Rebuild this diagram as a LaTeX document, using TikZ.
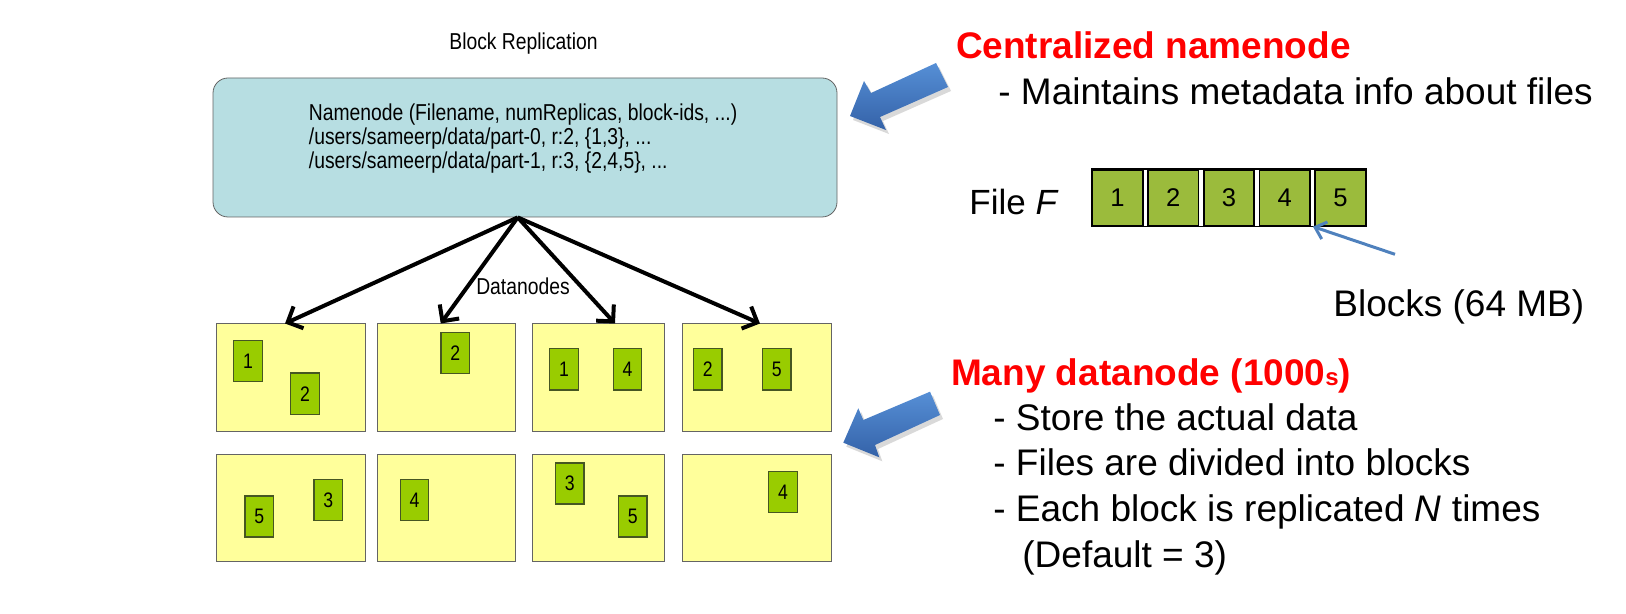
\documentclass[tikz,border=0pt]{standalone}
\usepackage{fontspec}
\setmainfont{Liberation Sans}
\newfontfamily\narrowsf[FakeStretch=0.84]{Liberation Sans}
\usepackage{xcolor}
\usepackage{tikz}
\usetikzlibrary{arrows.meta,calc,positioning}

\definecolor{namefill}{RGB}{183,222,226}
\definecolor{nodefill}{RGB}{255,255,155}
\definecolor{boxedge}{RGB}{100,100,100}
\definecolor{blkgreen}{RGB}{153,204,0}
\definecolor{blkedge}{RGB}{70,86,34}
\definecolor{filegreen}{RGB}{155,187,60}
\definecolor{ptrblue}{RGB}{79,129,189}
\definecolor{arrowtop}{RGB}{86,143,214}
\definecolor{arrowbot}{RGB}{52,98,168}
\definecolor{headred}{RGB}{255,0,0}

\begin{document}
\begin{tikzpicture}[x=0.5pt,y=-0.5pt,>=Stealth,
  namebox/.style={draw=boxedge,fill=namefill,rounded corners=7.5pt,minimum width=312pt,minimum height=69.5pt,inner sep=0pt},
  dnbox/.style={draw=boxedge,fill=nodefill,line width=0.5pt,minimum height=53.5pt,inner sep=0pt},
  blk/.style={draw=blkedge,fill=blkgreen,line width=0.7pt,minimum width=14.25pt,minimum height=20.5pt,inner sep=0pt,font=\narrowsf\fontsize{10.5}{10.5}\selectfont},
  filecell/.style={draw=black,fill=filegreen,line width=0.9pt,minimum width=25.3pt,minimum height=27.85pt,inner sep=0pt,font=\fontsize{12.8}{12.8}\selectfont},
  fanarrow/.style={line width=2pt,-{Straight Barb[length=6pt,width=12pt]}},
  ptrarrow/.style={draw=ptrblue,line width=1.5pt,-{Straight Barb[length=5pt,width=9pt]}},
  leftlbl/.style={anchor=base,inner sep=0pt,font=\narrowsf\fontsize{11.5}{11.5}\selectfont},
  nnline/.style={anchor=base west,inner sep=0pt,font=\narrowsf\fontsize{11.5}{11.5}\selectfont},
  heading/.style={anchor=base west,inner sep=0pt,text=headred,font=\bfseries\fontsize{18.5}{18.5}\selectfont},
  notetext/.style={anchor=base west,inner sep=0pt,font=\fontsize{18.5}{18.5}\selectfont},
  bigarrow/.style={top color=arrowtop,bottom color=arrowbot,draw=none}]
\useasboundingbox (0,0) rectangle (1626,614);

% namenode
\node[leftlbl] (title) at (523.5,50) {Block Replication};
\node[namebox] (namenode) at (525,147.5) {};
\node[nnline] (nnhead) at (308.5,121) {Namenode (Filename, numReplicas, block-ids, ...)};
\node[nnline] (nnpart0) at (308.5,145) {/users/sameerp/data/part-0, r:2, \{1,3\}, ...};
\node[nnline] (nnpart1) at (308.5,169) {/users/sameerp/data/part-1, r:3, \{2,4,5\}, ...};

% datanodes, two rows
\foreach \c/\x/\w in {1/290.85/74.85, 2/446.15/69.15, 3/598.5/66.2, 4/756.75/74.75} {
  \node[dnbox,minimum width=\w pt] (dna\c) at (\x,377.5) {};
  \node[dnbox,minimum width=\w pt] (dnb\c) at (\x,508.25) {};
}
\foreach \x/\y/\n [count=\i] in {248/361.2/1, 305/393.7/2, 455.3/352.8/2, 564/369.3/1, 627.5/369.3/4,
    707.8/369.3/2, 776.8/369.3/5, 259.3/516.3/5, 328.3/500.2/3, 414.5/500.2/4,
    569.8/483.5/3, 632.8/516.3/5, 783/491.8/4}
  \node[blk] (rep\i) at (\x,\y) {\n};

\coordinate (fanout) at ([xshift=-3.65pt]namenode.south);
\foreach \t/\s in {dna1/-2.9pt, dna2/-2.7pt, dna3/8.25pt, dna4/1.6pt}
  \draw[fanarrow] (fanout) -- ([xshift=\s]\t.north);
\node[leftlbl] (dnlabel) at (523,295) {Datanodes};

% blue pointers
\begin{scope}[shift={(3,4)}]
\fill[black,opacity=0.15] (850,116) -- (864,81) -- (871,93) -- (936,63) -- (948,87) -- (880,117) -- (886,130) -- cycle;
\fill[black,opacity=0.15] (843.3,442.7) -- (858.3,408.3) -- (863.3,420) -- (930,391.7) -- (940,415) -- (875,445) -- (879.3,457.3) -- cycle;
\end{scope}
\shade[bigarrow] (850,116) -- (864,81) -- (871,93) -- (936,63) -- (948,87) -- (880,117) -- (886,130) -- cycle;
\shade[bigarrow] (843.3,442.7) -- (858.3,408.3) -- (863.3,420) -- (930,391.7) -- (940,415) -- (875,445) -- (879.3,457.3) -- cycle;

% namenode notes
\node[heading] (cnhead) at (955.6,59) {Centralized namenode};
\node[notetext] (cnnote) at (998,104.3) {- Maintains metadata info about files};

% file F split into blocks
\node[notetext,font=\fontsize{17.5}{17.5}\selectfont] (filelbl) at (969,215) {File {\itshape F}};
\foreach \n in {1,...,5}
  \node[filecell] (cell\n) at ({1117.5+55.75*(\n-1)},197.85) {\n};
\draw[line width=0.9pt] (cell1.north west) -- (cell5.north east);
\draw[line width=0.9pt] (cell1.south west) -- (cell5.south east);
\coordinate (blkptr) at (1395,254.3);
\draw[ptrarrow] (blkptr) -- ([xshift=1pt]cell4.south east);
\node[notetext] (blklbl) at (1333,317) {Blocks (64 MB)};

% datanode notes
\node[heading] (dnhead) at (950.7,385.7) {Many datanode (1000{\fontsize{12}{12}\selectfont s})};
\node[notetext] (dnnote1) at (993,430) {- Store the actual data};
\node[notetext] (dnnote2) at (993,475.7) {- Files are divided into blocks};
\node[notetext] (dnnote3) at (993,521.7) {- Each block is replicated {\itshape N} times};
\node[notetext] (dnnote4) at (1022,567.5) {(Default = 3)};
\end{tikzpicture}
\end{document}
